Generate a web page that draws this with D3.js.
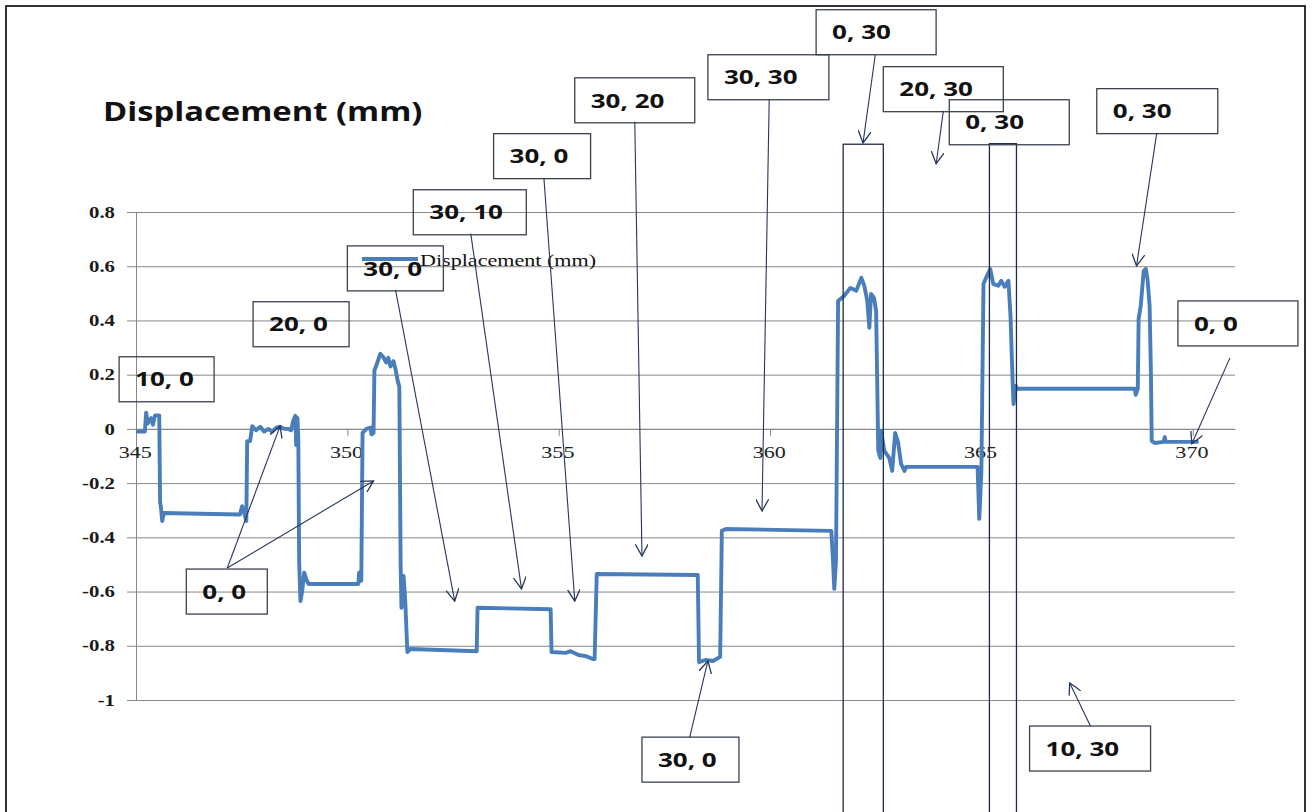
<!DOCTYPE html>
<html>
<head>
<meta charset="utf-8">
<script src="https://cdn.jsdelivr.net/npm/d3@7"></script>
<style>
  body { margin: 0; background: #fff; }
</style>
</head>
<body>
<svg id="chart" width="1315" height="812"></svg>
<script>
// displacement trace (position mm -> displacement mm)
const positionMm = [
  345.00, 345.21, 345.24, 345.28, 345.36, 345.40, 345.45, 345.55,
  345.57, 345.59, 345.62, 345.66, 346.52, 347.46, 347.51, 347.56, 347.61, 347.63, 347.70, 347.75,
  347.84, 347.94, 348.03, 348.13, 348.22, 348.32, 348.41, 348.51, 348.60, 348.67, 348.72, 348.77, 348.79, 348.82, 348.84,
  348.86, 348.89, 348.93, 348.98, 349.03, 349.08, 350.26, 350.28, 350.33,
  350.36, 350.45, 350.55, 350.57, 350.62, 350.64, 350.71, 350.78, 350.85, 350.92, 350.97, 351.02, 351.09, 351.14, 351.19, 351.23,
  351.26, 351.28, 351.33, 351.37, 351.42, 351.49, 353.06,
  353.08, 354.81,
  354.83, 355.17, 355.28, 355.47, 355.64, 355.81, 355.85,
  355.90, 358.29,
  358.32, 358.48, 358.65, 358.82,
  358.86, 358.96, 361.45, 361.49, 361.52, 361.56,
  361.61, 361.75, 361.90, 362.04, 362.16, 362.23, 362.30, 362.35, 362.39, 362.46, 362.51,
  362.56, 362.61, 362.63, 362.70, 362.82, 362.89, 362.96, 363.03, 363.10, 363.18, 363.22, 364.91, 364.95, 365.00,
  365.05, 365.12, 365.21, 365.28, 365.40, 365.47, 365.55, 365.64, 365.69,
  365.74, 365.76, 365.81, 365.85, 368.63, 368.65, 368.70,
  368.72, 368.77, 368.84, 368.89, 368.93, 368.98, 369.01,
  369.03, 369.10, 369.31, 369.34, 369.36, 370.14
];
const displacementMm = [
  -0.010, -0.010, 0.060, 0.020, 0.040, 0.015, 0.050, 0.050,
  -0.270, -0.290, -0.340, -0.310, -0.313, -0.316, -0.285, -0.310, -0.340, -0.045, -0.045, 0.010,
  -0.005, 0.008, -0.010, 0.000, -0.010, 0.005, 0.008, 0.000, 0.000, -0.005, 0.030, 0.048, -0.060, 0.040, -0.040,
  -0.490, -0.635, -0.600, -0.530, -0.555, -0.572, -0.572, -0.530, -0.560,
  -0.015, 0.000, 0.005, -0.020, -0.015, 0.215, 0.245, 0.277, 0.265, 0.245, 0.262, 0.230, 0.250, 0.220, 0.178, 0.155,
  -0.490, -0.660, -0.542, -0.635, -0.823, -0.812, -0.820,
  -0.660, -0.665,
  -0.823, -0.826, -0.820, -0.834, -0.838, -0.849, -0.849,
  -0.535, -0.539,
  -0.860, -0.852, -0.856, -0.841,
  -0.376, -0.369, -0.376, -0.487, -0.590, -0.487,
  0.472, 0.490, 0.520, 0.510, 0.557, 0.528, 0.472, 0.373, 0.498, 0.483, 0.435,
  -0.080, -0.107, -0.007, -0.080, -0.107, -0.155, -0.015, -0.050, -0.129, -0.155, -0.140, -0.140, -0.332, -0.155,
  0.535, 0.560, 0.590, 0.535, 0.528, 0.546, 0.524, 0.546, 0.413,
  0.170, 0.092, 0.159, 0.148, 0.148, 0.126, 0.148,
  0.406, 0.454, 0.583, 0.590, 0.553, 0.454, 0.214,
  -0.044, -0.052, -0.048, -0.030, -0.048, -0.048
];

const xTicks = [345, 350, 355, 360, 365, 370];
const yTicks = [-1, -0.8, -0.6, -0.4, -0.2, 0, 0.2, 0.4, 0.6, 0.8];
const seriesName = "Displacement (mm)";
const titleText = "Displacement (mm)";

// callout boxes: top-left corner in data units, arrows as [fromX, fromY, toX, toY]
const callouts = [
  { label: "10, 0", x: 344.60, y: 0.266, w: 95 },
  { label: "20, 0", x: 347.77, y: 0.469, w: 96 },
  { label: "30, 0", x: 350.00, y: 0.675, w: 96, arrows: [[351.14, 0.513, 352.54, -0.635]] },
  { label: "30, 10", x: 351.56, y: 0.882, w: 113, arrows: [[352.92, 0.720, 354.12, -0.590]] },
  { label: "30, 0", x: 353.46, y: 1.089, w: 97, arrows: [[354.65, 0.926, 355.38, -0.635]] },
  { label: "30, 20", x: 355.38, y: 1.295, w: 120, arrows: [[356.80, 1.133, 356.97, -0.469]] },
  { label: "30, 30", x: 358.53, y: 1.380, w: 121, arrows: [[359.98, 1.214, 359.81, -0.303]] },
  { label: "0, 30", x: 361.09, y: 1.546, w: 120, arrows: [[362.49, 1.380, 362.20, 1.055]] },
  { label: "20, 30", x: 362.68, y: 1.336, w: 120, arrows: [[364.10, 1.173, 363.93, 0.978]] },
  { label: "0, 30", x: 364.24, y: 1.214, w: 120 },
  { label: "0, 30", x: 367.73, y: 1.255, w: 121, arrows: [[369.15, 1.092, 368.67, 0.601]] },
  { label: "0, 0", x: 369.65, y: 0.472, w: 120, arrows: [[370.88, 0.262, 369.98, -0.055]] },
  { label: "10, 30", x: 366.14, y: -1.096, w: 121, arrows: [[367.58, -1.096, 367.09, -0.937]] },
  { label: "30, 0", x: 356.97, y: -1.137, w: 97, arrows: [[358.10, -1.137, 358.53, -0.856]] },
  { label: "0, 0", x: 346.19, y: -0.517, w: 81,
    arrows: [[347.16, -0.513, 348.41, 0.011], [347.16, -0.513, 350.62, -0.192]] }
];
// tall highlight rectangles (x range in mm, top in displacement units)
const bands = [
  { x0: 361.73, x1: 362.68, top: 1.05 },
  { x0: 365.19, x1: 365.83, top: 1.052 }
];

const SX = 1.3; // the picture is stretched sideways, text too
const svg = d3.select("#chart");
const gridColor = "#878787";
const lineColor = "#4A7EBB";

const x = d3.scaleLinear().domain([345, 371]).range([136, 1235]);
const y = d3.scaleLinear().domain([-1, 0.8]).range([700, 212]);

// y axis + gridlines
const yAxis = svg.append("g")
  .attr("transform", `translate(${x(345)},0)`)
  .call(d3.axisLeft(y).tickValues(yTicks).tickSize(-(x.range()[1] - x.range()[0])).tickSizeOuter(0)
    .tickFormat(d => String(d)));
yAxis.select(".domain").attr("stroke", gridColor);
yAxis.selectAll(".tick line").attr("stroke", gridColor).attr("x1", -9);
yAxis.selectAll(".tick text")
  .attr("x", -21 / SX)
  .attr("transform", `scale(${SX},1)`)
  .attr("fill", "#1a1a1a")
  .style("font-family", "'Liberation Serif', serif")
  .style("font-weight", 700)
  .style("font-size", "16px");

// x axis at zero
const xAxis = svg.append("g")
  .attr("transform", `translate(0,${y(0)})`)
  .call(d3.axisBottom(x).tickValues(xTicks).tickSize(7).tickPadding(10).tickSizeOuter(0));
xAxis.select(".domain").attr("stroke", gridColor);
xAxis.selectAll(".tick line").attr("stroke", gridColor);
xAxis.selectAll(".tick text")
  .attr("x", -1)
  .attr("transform", `scale(${SX},1)`)
  .attr("fill", "#222")
  .style("font-family", "'Liberation Serif', serif")
  .style("font-size", "17px");

// the trace
const pts = positionMm.map((p, i) => [p, displacementMm[i]]);
svg.append("path")
  .datum(pts)
  .attr("fill", "none")
  .attr("stroke", lineColor)
  .attr("stroke-width", 3.9)
  .attr("stroke-linejoin", "round")
  .attr("d", d3.line().x(d => x(d[0])).y(d => y(d[1])));

// legend (sits on the plot, as in the original)
svg.append("line")
  .attr("x1", 362).attr("x2", 418).attr("y1", 259).attr("y2", 259)
  .attr("stroke", lineColor).attr("stroke-width", 3.9);
svg.append("text")
  .attr("transform", `translate(420,260) scale(${SX},1)`)
  .attr("dy", "0.35em")
  .attr("fill", "#111")
  .style("font-family", "'Liberation Serif', serif")
  .style("font-size", "17px")
  .text(seriesName);

// arrow head
svg.append("defs").append("marker")
  .attr("id", "head")
  .attr("viewBox", "0 0 12 12")
  .attr("refX", 11).attr("refY", 6)
  .attr("markerWidth", 13).attr("markerHeight", 13)
  .attr("markerUnits", "userSpaceOnUse")
  .attr("orient", "auto")
  .append("path")
  .attr("d", "M0,0 L11,6 L0,12")
  .attr("fill", "none")
  .attr("stroke", "#27365a")
  .attr("stroke-width", 1.2);

// highlight bands
svg.selectAll(".band")
  .data(bands)
  .enter()
  .append("rect")
  .attr("class", "band")
  .attr("x", d => x(d.x0))
  .attr("y", d => y(d.top))
  .attr("width", d => x(d.x1) - x(d.x0))
  .attr("height", d => y(-1.5) - y(d.top))
  .attr("fill", "none")
  .attr("stroke", "#1f2b44")
  .attr("stroke-width", 1.3);

// callouts
const boxH = 45;
const co = svg.selectAll(".callout")
  .data(callouts)
  .enter()
  .append("g")
  .attr("class", "callout");

co.append("rect")
  .attr("x", d => x(d.x))
  .attr("y", d => y(d.y))
  .attr("width", d => d.w)
  .attr("height", boxH)
  .attr("fill", "none")
  .attr("stroke", "#3a4250")
  .attr("stroke-width", 1.3);

co.append("text")
  .attr("transform", d => `translate(${x(d.x) + 16},${y(d.y) + boxH / 2}) scale(${SX},1)`)
  .attr("dy", "0.36em")
  .attr("fill", "#111")
  .style("font-family", "'Open Sans', sans-serif")
  .style("font-weight", 700)
  .style("font-size", "20px")
  .text(d => d.label);

co.selectAll(".arrow")
  .data(d => d.arrows || [])
  .enter()
  .append("line")
  .attr("class", "arrow")
  .attr("x1", a => x(a[0])).attr("y1", a => y(a[1]))
  .attr("x2", a => x(a[2])).attr("y2", a => y(a[3]))
  .attr("stroke", "#27365a")
  .attr("stroke-width", 1.1)
  .attr("marker-end", "url(#head)");

// title
svg.append("text")
  .attr("transform", `translate(103,121) scale(1.26,1)`)
  .attr("fill", "#111")
  .style("font-family", "'Open Sans', sans-serif")
  .style("font-weight", 700)
  .style("font-size", "26px")
  .text(titleText);

// outer frame of the picture
svg.append("rect")
  .attr("x", 6).attr("y", 6)
  .attr("width", 1299).attr("height", 830)
  .attr("fill", "none")
  .attr("stroke", "#000")
  .attr("stroke-width", 1.6);
</script>
</body>
</html>
